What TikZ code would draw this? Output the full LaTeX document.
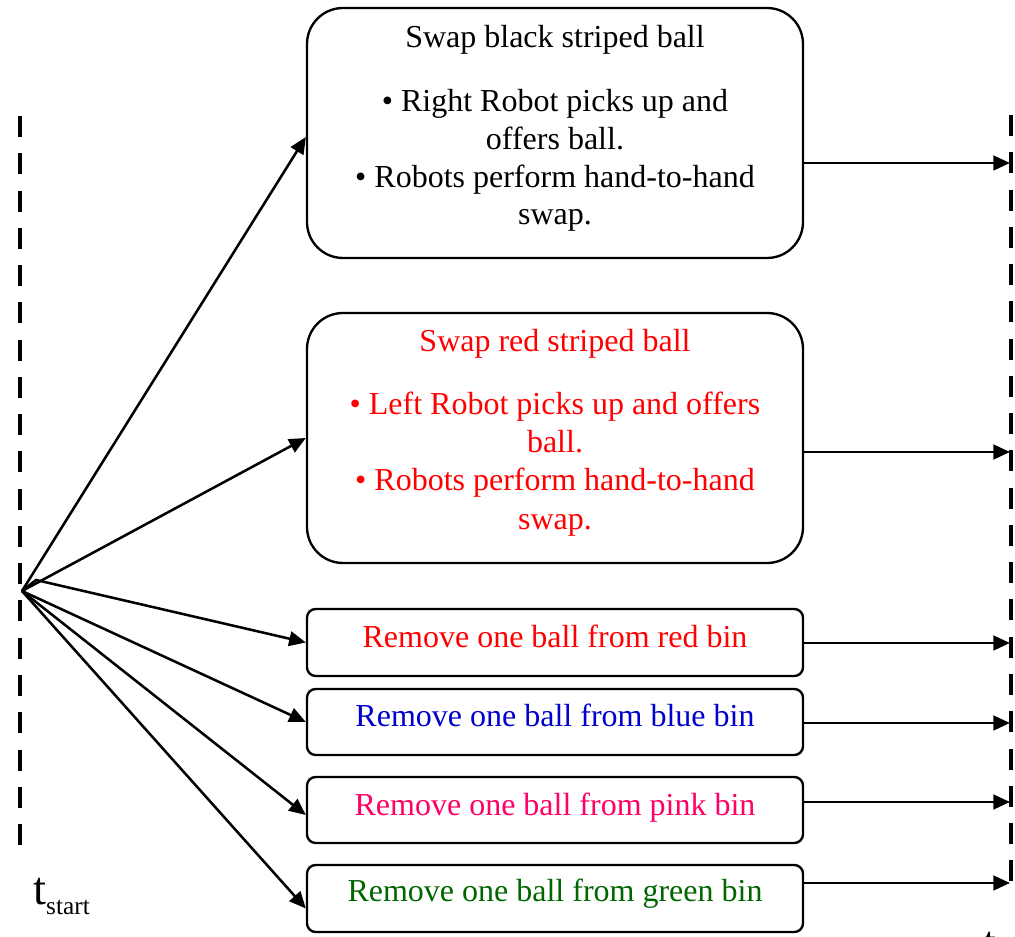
\documentclass[tikz,border=0pt]{standalone}
\usepackage{fontspec}
\setmainfont{Liberation Serif}
\usetikzlibrary{arrows.meta,calc}
\definecolor{myred}{HTML}{FF0000}
\definecolor{myblue}{HTML}{0000CC}
\definecolor{mypink}{HTML}{FF0066}
\definecolor{mygreen}{HTML}{006600}
\tikzset{
  bigbox/.style={draw=black,line width=1.75pt,rounded corners=27pt,minimum width=372pt,minimum height=187.5pt,inner sep=0pt},
  smallbox/.style={draw=black,line width=1.75pt,rounded corners=6.5pt,minimum width=372pt,minimum height=50pt,inner sep=0pt},
  txt/.style={anchor=base,inner sep=0pt,font=\fontsize{24}{28.5}\selectfont},
  conn/.style={line width=1.9pt,-{Triangle[length=12.5pt,width=11pt]}},
  timeline/.style={line width=3.5pt,dash pattern=on 15.75pt off 12.2pt},
  tlabel/.style={anchor=base west,inner sep=0pt}
}
\begin{document}
\begin{tikzpicture}[x=0.75pt,y=-0.75pt]
\useasboundingbox (0,0) rectangle (1015,937);
% time lines
\draw[timeline] (20,116) -- (20,845);
\draw[timeline,line width=3pt] (1011,115) -- (1011,887);
% boxes
\node[bigbox] (b1) at (555,133) {};
\node[bigbox] (b2) at (555,438) {};
\node[smallbox,minimum height=50.25pt] (b3) at (555,642.5) {};
\node[smallbox,minimum height=49.5pt] (b4) at (555,722) {};
\node[smallbox,minimum height=49.5pt] (b5) at (555,810) {};
\node[smallbox,minimum height=50.25pt] (b6) at (555,898.5) {};
% texts box 1
\node[txt] (b1t) at (555,47.5) {Swap black striped ball};
\node[txt] (b1a) at (555,111.5) {• Right Robot picks up and};
\node[txt] (b1b) at (555,149.5) {offers ball.};
\node[txt] (b1c) at (555,187.5) {• Robots perform hand-to-hand};
\node[txt] (b1d) at (555,224.5) {swap.};
% texts box 2
\node[txt,text=myred] (b2t) at (555,351.5) {Swap red striped ball};
\node[txt,text=myred] (b2a) at (555,414.5) {• Left Robot picks up and offers};
\node[txt,text=myred] (b2b) at (555,452.5) {ball.};
\node[txt,text=myred] (b2c) at (555,490.5) {• Robots perform hand-to-hand};
\node[txt,text=myred] (b2d) at (555,529.5) {swap.};
% small box texts
\node[txt,text=myred] (b3t) at (555,647.5) {Remove one ball from red bin};
\node[txt,text=myblue] (b4t) at (555,726.5) {Remove one ball from blue bin};
\node[txt,text=mypink] (b5t) at (555,815.5) {Remove one ball from pink bin};
\node[txt,text=mygreen] (b6t) at (555,901.5) {Remove one ball from green bin};
% time labels
\node[tlabel] (ts) at (33,904) {{\fontsize{35}{40}\selectfont t}\raisebox{-7.5pt}{\fontsize{19}{22}\selectfont start}};
\node[tlabel] (te) at (983,958) {{\fontsize{35}{40}\selectfont t}\raisebox{-7.5pt}{\fontsize{19}{22}\selectfont end}};
% origin and ends
\coordinate (o) at (22,591);
\coordinate (k) at (36,580);
\coordinate (e1) at (1010,163);
\coordinate (e2) at (1010,452);
\coordinate (e3) at (1010,643);
\coordinate (e4) at (1010,723);
\coordinate (e5) at (1010,802);
\coordinate (e6) at (1010,883);
% incoming connectors
\draw[conn] (o) -- ($(b1.west)+(0,4)$);
\draw[conn] (o) -- (b2.west);
\draw[conn] (o) -- (k) -- (b3.west);
\draw[conn] (o) -- (b4.west);
\draw[conn] (o) -- ($(b5.west)+(0,5)$);
\draw[conn] (o) -- ($(b6.west)+(0,10)$);
% outgoing connectors
\draw[conn] (b1.east |- e1) -- (e1);
\draw[conn] (b2.east |- e2) -- (e2);
\draw[conn] (b3.east |- e3) -- (e3);
\draw[conn] (b4.east |- e4) -- (e4);
\draw[conn] (b5.east |- e5) -- (e5);
\draw[conn] (b6.east |- e6) -- (e6);
\end{tikzpicture}
\end{document}
